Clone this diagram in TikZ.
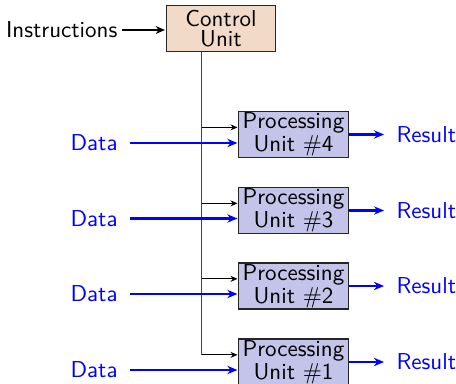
\documentclass[tikz,border=0pt]{standalone}
\usetikzlibrary{arrows.meta}
\definecolor{ctrlfill}{RGB}{241,218,199}
\definecolor{pufill}{RGB}{196,196,234}
\definecolor{trunkgray}{RGB}{70,70,70}
\begin{document}
\begin{tikzpicture}[x=0.4348pt, y=-0.4348pt,
  every node/.style={font=\sffamily\fontsize{10}{8.6}\selectfont},
  unitbox/.style={draw=black!85, line width=0.45pt, align=center,
    minimum width=47.5pt, minimum height=20pt, inner sep=0pt},
  ctrlbox/.style={unitbox, fill=ctrlfill},
  pubox/.style={unitbox, fill=pufill},
  datalbl/.style={text=blue, inner xsep=5.2pt, inner ysep=0pt},
  reslbl/.style={text=blue, inner xsep=4.8pt, inner ysep=0pt},
  instrarrow/.style={line width=0.7pt, -{Stealth[length=4pt,width=3.4pt]}, shorten >=0.4pt},
  dataarrow/.style={blue, line width=0.9pt, -{Stealth[length=4.4pt,width=3.6pt]}, shorten >=0.4pt},
  ctrlarrow/.style={black, line width=0.35pt, -{Stealth[length=3pt,width=2.6pt]}, shorten >=0.4pt},
  trunk/.style={trunkgray, line width=0.55pt}]
  \useasboundingbox (0,0) rectangle (456,384);

  % control unit and its input
  \node[ctrlbox] (cu) at (221,28.5) {Control\\Unit};
  \node[anchor=east, inner xsep=1.8pt, inner ysep=0pt] (instr) at (122,30) {Instructions};
  \draw[instrarrow] (instr.east) -- (instr.east -| cu.west);

  % processing units
  \node[pubox] (pu4) at (293.5,134.5) {Processing\\Unit \#4};
  \node[pubox] (pu3) at (293.5,210.5) {Processing\\Unit \#3};
  \node[pubox] (pu2) at (293.5,286) {Processing\\Unit \#2};
  \node[pubox] (pu1) at (293.5,362) {Processing\\Unit \#1};

  % control lines from the control unit to every processing unit
  \coordinate (top) at ([xshift=15.6pt]cu.south west);
  \foreach \p in {4,3,2,1} {
    \coordinate (b\p) at ([yshift=3.1pt]pu\p.west);
  }
  \draw[trunk] (top) -- (top |- b1);
  \foreach \p in {4,3,2,1} {
    \draw[ctrlarrow] (top |- b\p) -- (b\p);
  }

  % data inputs and results
  \foreach \p/\y in {4/143,3/218.5,2/294,1/370} {
    \node[datalbl, anchor=east] (d\p) at (130,\y) {Data};
    \draw[dataarrow] (d\p.east) -- (d\p.east -| pu\p.west);
    \node[reslbl, anchor=west] (r\p) at (385,0 |- pu\p.center) {Result};
    \draw[dataarrow] (pu\p.east) -- (r\p.west);
  }
\end{tikzpicture}
\end{document}
